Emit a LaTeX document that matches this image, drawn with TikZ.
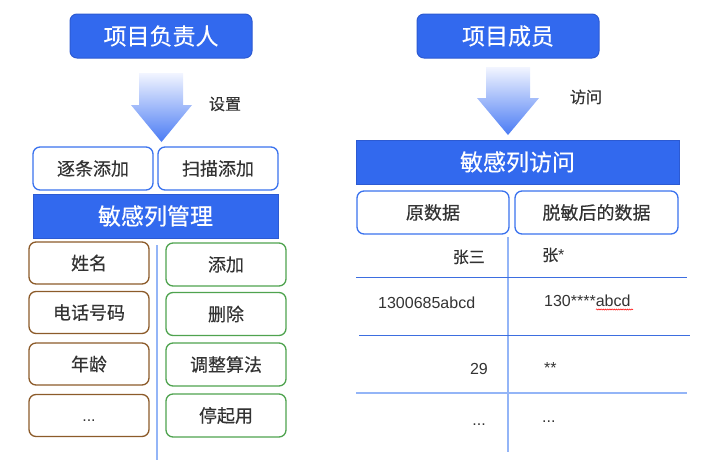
\documentclass[tikz,border=0pt]{standalone}
\usepackage{fontspec}
\setmainfont{Liberation Sans}
\newfontfamily\cjk{Noto Sans CJK SC}[FakeBold=0.35]
\usetikzlibrary{decorations.pathmorphing}
\definecolor{bluefill}{HTML}{3269EE}
\definecolor{blueedge}{HTML}{2C5AD2}
\definecolor{boxedge}{HTML}{3A72EE}
\definecolor{brownedge}{HTML}{8C5B2A}
\definecolor{greenedge}{HTML}{4FA34F}
\definecolor{lightline}{HTML}{94B5F7}
\definecolor{darkline}{HTML}{3D6EE0}
\definecolor{txt}{HTML}{333333}
\definecolor{arrtop}{HTML}{F2F5FF}
\definecolor{arrbot}{HTML}{4A7BF4}
\tikzset{
  bighead/.style={draw=blueedge, line width=1pt, fill=bluefill, text=white, rounded corners=7pt,
    font=\cjk\fontsize{23}{26}\selectfont, minimum width=182pt, minimum height=44pt, inner sep=0pt},
  bigbar/.style={draw=blueedge, line width=1pt, fill=bluefill, text=white,
    font=\cjk\fontsize{23}{26}\selectfont, minimum height=44pt, inner sep=0pt},
  bluebox/.style={draw=boxedge, line width=1.3pt, fill=white, text=txt, rounded corners=7pt,
    font=\cjk\fontsize{18}{20}\selectfont, minimum height=43pt, inner sep=0pt},
  brownbox/.style={draw=brownedge, line width=1.3pt, fill=white, text=txt, rounded corners=7pt,
    font=\cjk\fontsize{18}{20}\selectfont, minimum width=120pt, minimum height=42pt, inner sep=0pt},
  greenbox/.style={draw=greenedge, line width=1.3pt, fill=white, text=txt, rounded corners=7pt,
    font=\cjk\fontsize{18}{20}\selectfont, minimum width=120pt, minimum height=43pt, inner sep=0pt},
  lbl/.style={text=txt, font=\cjk\fontsize{16}{18}\selectfont, inner sep=0pt},
  cell/.style={text=txt, font=\fontsize{16}{18}\selectfont, inner sep=0pt},
  arrowshade/.style={top color=arrtop, bottom color=arrbot},
}
\begin{document}
\begin{tikzpicture}[x=1pt,y=-1pt]
\useasboundingbox (0,0) rectangle (726,467);

% ---------- left part ----------
\node[bighead] (lead) at (161,36) {项目负责人};
\shade[arrowshade] (139,73) -- (183,73) -- (183,105) -- (192,105) -- (161.5,142) -- (131,105) -- (139,105) -- cycle;
\node[lbl] (set) at (225,104) {设置};

\node[bluebox, minimum width=120pt] (add1) at (93,168.5) {逐条添加};
\node[bluebox, minimum width=120pt] (add2) at (218,168.5) {扫描添加};
\node[bigbar, minimum width=245pt] (mgmt) at (155.5,216) {敏感列管理};

\node[brownbox] (c1) at (89,263) {姓名};
\node[brownbox] (c2) at (89,312.5) {电话号码};
\node[brownbox] (c3) at (89,364) {年龄};
\node[brownbox, font=\fontsize{16}{18}\selectfont, text height=12pt, text depth=0pt] (c4) at (89,415.5) {...};

\coordinate (ldivtop) at (157,245);
\coordinate (ldivbot) at (157,460);
\draw[lightline, line width=2pt] (ldivtop) -- (ldivbot);

\node[greenbox] (g1) at (226,264.5) {添加};
\node[greenbox] (g2) at (226,314) {删除};
\node[greenbox] (g3) at (226,364.5) {调整算法};
\node[greenbox] (g4) at (226,415.5) {停起用};

% ---------- right part ----------
\node[bighead] (member) at (508,36) {项目成员};
\shade[arrowshade] (486,67) -- (530,67) -- (530,98) -- (539,98) -- (508,135) -- (477,98) -- (486,98) -- cycle;
\node[lbl] (visit) at (586,97) {访问};

\node[bigbar, minimum width=323pt] (access) at (517.5,162) {敏感列访问};
\node[bluebox, minimum width=152pt] (orig) at (433,212.5) {原数据};
\node[bluebox, minimum width=163pt] (masked) at (596.5,212.5) {脱敏后的数据};

\coordinate (rdivtop) at (508,237);
\coordinate (rdivbot) at (508,452);
\draw[lightline, line width=2pt] (rdivtop) -- (rdivbot);
\coordinate (h1a) at (356,277); \coordinate (h1b) at (687,277);
\coordinate (h2a) at (359,335); \coordinate (h2b) at (690,335);
\coordinate (h3a) at (356,393); \coordinate (h3b) at (687,393);
\draw[darkline, line width=0.9pt] (h1a) -- (h1b);
\draw[darkline, line width=0.9pt] (h2a) -- (h2b);
\draw[lightline, line width=2pt] (h3a) -- (h3b);

\node[cell, anchor=east, font=\cjk\fontsize{16}{18}\selectfont] (t1a) at (485,257) {张三};
\node[cell, anchor=west] (t1b) at (542,255) {{\cjk 张}*};
\node[cell, anchor=west] (t2a) at (378,303) {1300685abcd};
\node[cell, anchor=west] (t2b) at (544,301) {130****abcd};
\draw[red, line width=0.5pt, decorate, decoration={snake, amplitude=0.6pt, segment length=2.2pt}] (596,309.5) -- (633,309.5);
\node[cell, anchor=east] (t3a) at (488,369) {29};
\node[cell, anchor=west] (t3b) at (544,368) {**};
\node[cell, anchor=base east] (t4a) at (486,425) {...};
\node[cell, anchor=base west] (t4b) at (542,422) {...};
\end{tikzpicture}
\end{document}
